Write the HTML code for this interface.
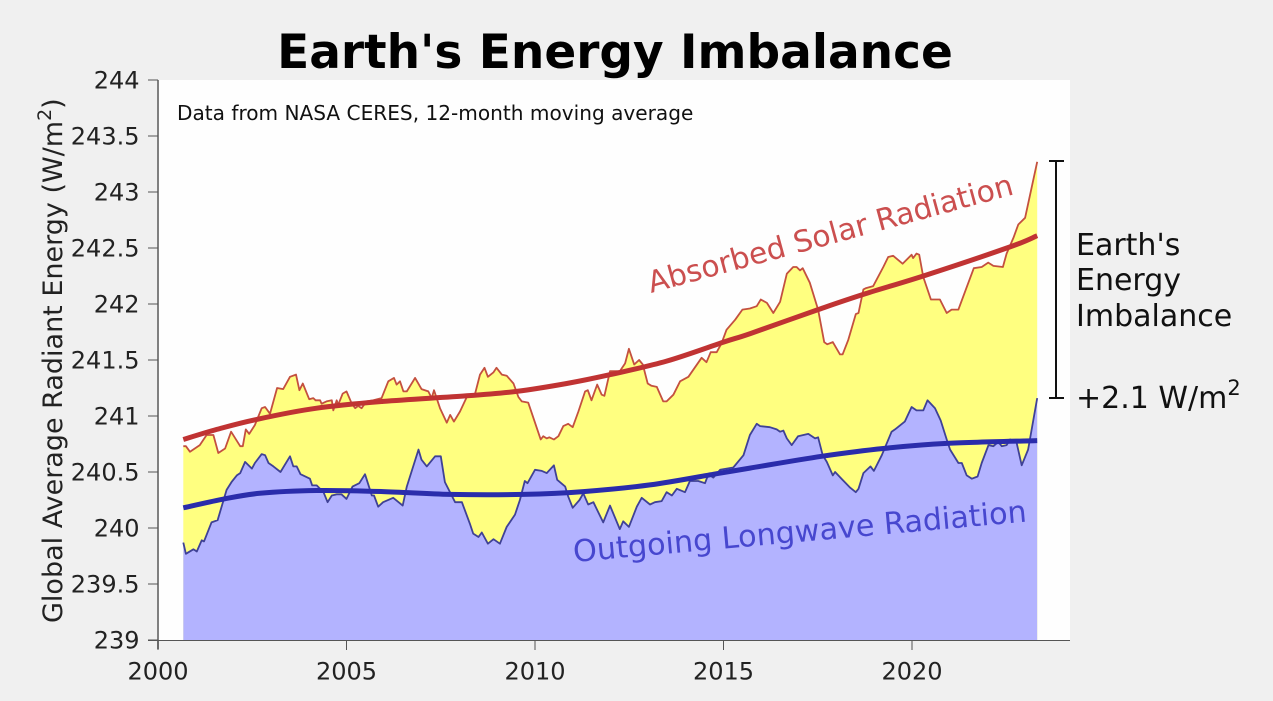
<!DOCTYPE html>
<html lang="en">
<head>
<meta charset="utf-8">
<title>Earth's Energy Imbalance</title>
<style>
html,body{margin:0;padding:0;background:#f0f0f0;}
svg{display:block;font-family:"DejaVu Sans","Liberation Sans",sans-serif;}
</style>
</head>
<body>
<svg id="chart" width="1273" height="701" viewBox="0 0 1273 701" xmlns="http://www.w3.org/2000/svg">
  <rect x="0" y="0" width="1273" height="701" fill="#f0f0f0"/>
  <rect x="158" y="80" width="912" height="560" fill="#fefefe"/>
  <g id="marks"></g>
  <line x1="158" y1="80" x2="158" y2="649" stroke="#808080" stroke-width="2"/>
  <line x1="148" y1="640.5" x2="1070" y2="640.5" stroke="#555" stroke-width="1"/>
  <g id="ticks"></g>
  <text x="615" y="68" text-anchor="middle" font-size="47" font-weight="bold" fill="#000">Earth's Energy Imbalance</text>
  <text transform="translate(62,623) rotate(-90)" font-size="27" fill="#222">Global Average Radiant Energy (W/m<tspan dy="-11" font-size="19">2</tspan><tspan dy="11">)</tspan></text>
  <text x="177" y="120" font-size="20.1" fill="#111">Data from NASA CERES, 12-month moving average</text>
  <text transform="translate(651,293) rotate(-15.2)" font-size="29.8" fill="#cb4f4f">Absorbed Solar Radiation</text>
  <text transform="translate(574,562) rotate(-5.1)" font-size="30.3" fill="#4747cf">Outgoing Longwave Radiation</text>
  <g stroke="#111" stroke-width="2" fill="none">
    <line x1="1056" y1="161" x2="1056" y2="398"/>
    <line x1="1049" y1="161" x2="1064" y2="161"/>
    <line x1="1049" y1="398" x2="1064" y2="398"/>
  </g>
  <text font-size="30" fill="#111">
    <tspan x="1076" y="255">Earth's</tspan>
    <tspan x="1076" y="290">Energy</tspan>
    <tspan x="1076" y="326">Imbalance</tspan>
  </text>
  <text x="1076" y="408" font-size="30" fill="#111">+2.1 W/m<tspan dy="-13" font-size="21">2</tspan></text>
</svg>
<script>
const solarYears = [2000.67,2000.74,2000.85,2001.11,2001.29,2001.47,2001.60,2001.78,2001.94,2002.18,2002.25,2002.33,2002.42,2002.57,2002.75,2002.84,2002.97,2003.16,2003.32,2003.50,2003.66,2003.75,2003.84,2004.01,2004.12,2004.18,2004.30,2004.34,2004.47,2004.61,2004.65,2004.74,2004.78,2004.90,2005.00,2005.14,2005.23,2005.31,2005.40,2005.53,2005.71,2005.93,2006.11,2006.26,2006.33,2006.42,2006.51,2006.60,2006.82,2006.99,2007.17,2007.26,2007.32,2007.48,2007.66,2007.75,2007.85,2008.01,2008.19,2008.41,2008.54,2008.66,2008.75,2008.90,2008.98,2009.12,2009.25,2009.43,2009.56,2009.65,2009.82,2009.96,2010.15,2010.22,2010.31,2010.38,2010.50,2010.62,2010.75,2010.88,2011.00,2011.15,2011.33,2011.40,2011.50,2011.65,2011.77,2011.84,2011.99,2012.25,2012.39,2012.49,2012.63,2012.76,2012.86,2012.99,2013.09,2013.23,2013.40,2013.49,2013.67,2013.85,2014.07,2014.42,2014.55,2014.66,2014.82,2014.95,2015.08,2015.31,2015.50,2015.70,2015.88,2015.99,2016.15,2016.32,2016.50,2016.68,2016.85,2016.94,2017.03,2017.10,2017.29,2017.51,2017.67,2017.75,2017.90,2018.09,2018.16,2018.31,2018.51,2018.58,2018.71,2018.77,2018.97,2019.24,2019.37,2019.50,2019.75,2019.99,2020.03,2020.12,2020.19,2020.30,2020.50,2020.74,2020.92,2021.05,2021.23,2021.45,2021.64,2021.85,2022.02,2022.16,2022.41,2022.51,2022.69,2022.82,2023.00,2023.32];
const solarValues = [240.73,240.73,240.68,240.74,240.83,240.83,240.67,240.71,240.86,240.73,240.73,240.88,240.84,240.92,241.07,241.08,241.02,241.25,241.24,241.35,241.37,241.23,241.29,241.15,241.16,241.14,241.14,241.11,241.13,241.14,241.05,241.14,241.10,241.20,241.22,241.11,241.07,241.09,241.07,241.13,241.14,241.16,241.31,241.34,241.28,241.31,241.22,241.22,241.34,241.24,241.22,241.16,241.23,241.07,240.94,241.01,240.95,241.04,241.17,241.20,241.37,241.43,241.35,241.39,241.43,241.37,241.36,241.29,241.17,241.13,241.12,240.98,240.79,240.82,240.80,240.81,240.79,240.82,240.91,240.93,240.90,241.04,241.22,241.23,241.14,241.28,241.19,241.18,241.40,241.40,241.47,241.60,241.46,241.50,241.46,241.29,241.27,241.26,241.13,241.13,241.19,241.31,241.35,241.52,241.48,241.57,241.57,241.65,241.77,241.86,241.95,241.96,241.98,242.04,242.01,241.92,242.02,242.27,242.33,242.33,242.30,242.32,242.19,241.95,241.66,241.64,241.66,241.55,241.55,241.68,241.91,241.92,242.13,242.14,242.16,242.33,242.42,242.43,242.36,242.44,242.41,242.45,242.44,242.24,242.04,242.04,241.92,241.95,241.95,242.15,242.32,242.33,242.37,242.34,242.33,242.45,242.59,242.71,242.77,243.27];
const longwaveYears = [2000.67,2000.74,2000.94,2001.03,2001.16,2001.22,2001.42,2001.58,2001.82,2001.95,2002.09,2002.18,2002.31,2002.49,2002.57,2002.75,2002.84,2002.93,2003.06,2003.25,2003.50,2003.59,2003.68,2003.78,2004.03,2004.09,2004.21,2004.39,2004.50,2004.61,2004.74,2004.87,2005.00,2005.16,2005.34,2005.49,2005.67,2005.73,2005.84,2005.97,2006.24,2006.49,2006.60,2006.91,2006.99,2007.13,2007.35,2007.50,2007.61,2007.88,2008.06,2008.28,2008.36,2008.50,2008.59,2008.75,2008.90,2009.07,2009.25,2009.47,2009.60,2009.73,2009.80,2010.00,2010.18,2010.31,2010.50,2010.59,2010.80,2010.88,2011.00,2011.18,2011.28,2011.41,2011.55,2011.81,2011.99,2012.25,2012.34,2012.49,2012.70,2012.83,2013.05,2013.18,2013.36,2013.49,2013.63,2013.76,2013.98,2014.11,2014.33,2014.51,2014.60,2014.73,2014.91,2015.26,2015.53,2015.70,2015.88,2015.97,2016.23,2016.41,2016.50,2016.59,2016.68,2016.81,2016.98,2017.12,2017.25,2017.43,2017.51,2017.63,2017.74,2017.90,2017.96,2018.13,2018.36,2018.51,2018.58,2018.71,2018.90,2018.99,2019.20,2019.46,2019.55,2019.81,2019.99,2020.12,2020.30,2020.41,2020.61,2020.76,2020.92,2021.01,2021.23,2021.32,2021.45,2021.59,2021.74,2021.85,2022.03,2022.16,2022.29,2022.38,2022.51,2022.60,2022.77,2022.91,2023.08,2023.32];
const longwaveValues = [239.87,239.77,239.81,239.79,239.89,239.88,240.05,240.07,240.34,240.41,240.47,240.49,240.59,240.53,240.58,240.66,240.65,240.58,240.55,240.50,240.64,240.55,240.55,240.48,240.44,240.38,240.38,240.32,240.23,240.29,240.30,240.30,240.26,240.37,240.40,240.48,240.29,240.29,240.19,240.23,240.27,240.20,240.37,240.70,240.61,240.55,240.64,240.64,240.41,240.23,240.23,240.03,239.95,239.92,239.96,239.86,239.90,239.86,240.01,240.12,240.25,240.42,240.40,240.52,240.51,240.49,240.56,240.43,240.37,240.28,240.18,240.25,240.31,240.21,240.23,240.05,240.20,239.99,240.06,240.01,240.19,240.27,240.21,240.23,240.24,240.32,240.29,240.35,240.32,240.42,240.42,240.40,240.48,240.45,240.52,240.54,240.65,240.83,240.93,240.91,240.90,240.88,240.86,240.87,240.80,240.74,240.82,240.83,240.84,240.80,240.81,240.65,240.59,240.47,240.50,240.44,240.36,240.32,240.35,240.49,240.55,240.51,240.65,240.86,240.88,240.95,241.08,241.05,241.05,241.14,241.07,240.96,240.79,240.70,240.58,240.58,240.47,240.44,240.46,240.58,240.74,240.73,240.77,240.73,240.74,240.79,240.77,240.56,240.70,241.16];
const solarTrendYears = [2000.67,2001.56,2002.62,2004.21,2005.98,2008.19,2009.51,2010.84,2012.00,2013.49,2015.00,2015.70,2017.51,2018.75,2020.30,2022.60,2023.32];
const solarTrendValues = [240.79,240.88,240.97,241.07,241.13,241.18,241.22,241.29,241.37,241.49,241.66,241.735,241.95,242.09,242.25,242.51,242.61];
const longwaveTrendYears = [2000.67,2001.69,2002.70,2004.21,2005.98,2007.75,2009.69,2011.28,2013.05,2014.82,2015.70,2017.60,2019.24,2020.92,2023.32];
const longwaveTrendValues = [240.18,240.255,240.31,240.335,240.325,240.30,240.30,240.325,240.385,240.485,240.535,240.64,240.71,240.755,240.78];
const xTickValues = [2000,2005,2010,2015,2020];
const yTickValues = [239,239.5,240,240.5,241,241.5,242,242.5,243,243.5,244];

const SVG_NS = 'http://www.w3.org/2000/svg';
const xScale = function (year) { return 158 + (year - 2000) * 37.7; };
const yScale = function (value) { return 640 - (value - 239) * 112; };

const polyPoints = function (years, values) {
  return years.map(function (yr, i) { return xScale(yr).toFixed(1) + ',' + yScale(values[i]).toFixed(1); }).join(' ');
};
const areaPoints = function (years, values) {
  const base = yScale(239).toFixed(1);
  return xScale(years[0]).toFixed(1) + ',' + base + ' ' + polyPoints(years, values) + ' ' + xScale(years[years.length - 1]).toFixed(1) + ',' + base;
};
const smoothPath = function (years, values) {
  const pts = years.map(function (yr, i) { return [xScale(yr), yScale(values[i])]; });
  let d = 'M' + pts[0][0].toFixed(1) + ' ' + pts[0][1].toFixed(1);
  for (let i = 0; i < pts.length - 1; i++) {
    const p0 = pts[Math.max(i - 1, 0)], p1 = pts[i], p2 = pts[i + 1], p3 = pts[Math.min(i + 2, pts.length - 1)];
    d += ' C' + (p1[0] + (p2[0] - p0[0]) / 6).toFixed(1) + ' ' + (p1[1] + (p2[1] - p0[1]) / 6).toFixed(1) +
         ' ' + (p2[0] - (p3[0] - p1[0]) / 6).toFixed(1) + ' ' + (p2[1] - (p3[1] - p1[1]) / 6).toFixed(1) +
         ' ' + p2[0].toFixed(1) + ' ' + p2[1].toFixed(1);
  }
  return d;
};

const marks = document.getElementById('marks');
const ticks = document.getElementById('ticks');

const solarArea = document.createElementNS(SVG_NS, 'polygon');


solarArea.setAttribute('points', areaPoints(solarYears, solarValues));
solarArea.setAttribute('fill', '#ffff80');
marks.appendChild(solarArea);

const longwaveArea = document.createElementNS(SVG_NS, 'polygon');


longwaveArea.setAttribute('points', areaPoints(longwaveYears, longwaveValues));
longwaveArea.setAttribute('fill', '#b3b3ff');
marks.appendChild(longwaveArea);

const solarLine = document.createElementNS(SVG_NS, 'polyline');


solarLine.setAttribute('points', polyPoints(solarYears, solarValues));
solarLine.setAttribute('fill', 'none');
solarLine.setAttribute('stroke', '#c4503f');
solarLine.setAttribute('stroke-width', '1.8');
solarLine.setAttribute('stroke-linejoin', 'round');
marks.appendChild(solarLine);

const longwaveLine = document.createElementNS(SVG_NS, 'polyline');


longwaveLine.setAttribute('points', polyPoints(longwaveYears, longwaveValues));
longwaveLine.setAttribute('fill', 'none');
longwaveLine.setAttribute('stroke', '#3f4196');
longwaveLine.setAttribute('stroke-width', '1.8');
longwaveLine.setAttribute('stroke-linejoin', 'round');
marks.appendChild(longwaveLine);

const solarTrend = document.createElementNS(SVG_NS, 'path');


solarTrend.setAttribute('d', smoothPath(solarTrendYears, solarTrendValues));
solarTrend.setAttribute('fill', 'none');
solarTrend.setAttribute('stroke', '#c03333');
solarTrend.setAttribute('stroke-width', '5');
marks.appendChild(solarTrend);

const longwaveTrend = document.createElementNS(SVG_NS, 'path');


longwaveTrend.setAttribute('d', smoothPath(longwaveTrendYears, longwaveTrendValues));
longwaveTrend.setAttribute('fill', 'none');
longwaveTrend.setAttribute('stroke', '#2a2cab');
longwaveTrend.setAttribute('stroke-width', '5');
marks.appendChild(longwaveTrend);

xTickValues.forEach(function (yr) {
  const tick = document.createElementNS(SVG_NS, 'line');
  
  
  tick.setAttribute('x1', xScale(yr));
  tick.setAttribute('x2', xScale(yr));
  tick.setAttribute('y1', 640);
  tick.setAttribute('y2', 650);
  tick.setAttribute('stroke', '#555');
  ticks.appendChild(tick);

  const label = document.createElementNS(SVG_NS, 'text');
  
  
  label.setAttribute('x', xScale(yr));
  label.setAttribute('y', 679.5);
  label.setAttribute('text-anchor', 'middle');
  label.setAttribute('font-size', '24');
  label.setAttribute('fill', '#222');
  label.textContent = String(yr);
  ticks.appendChild(label);
});

yTickValues.forEach(function (val) {
  const tick = document.createElementNS(SVG_NS, 'line');
  
  
  tick.setAttribute('x1', 148);
  tick.setAttribute('x2', 158);
  tick.setAttribute('y1', yScale(val));
  tick.setAttribute('y2', yScale(val));
  tick.setAttribute('stroke', '#555');
  ticks.appendChild(tick);

  const label = document.createElementNS(SVG_NS, 'text');
  
  
  label.setAttribute('x', 139.5);
  label.setAttribute('y', yScale(val) + 8.5);
  label.setAttribute('text-anchor', 'end');
  label.setAttribute('font-size', '24');
  label.setAttribute('fill', '#222');
  label.textContent = String(val);
  ticks.appendChild(label);
});
</script>
</body>
</html>
